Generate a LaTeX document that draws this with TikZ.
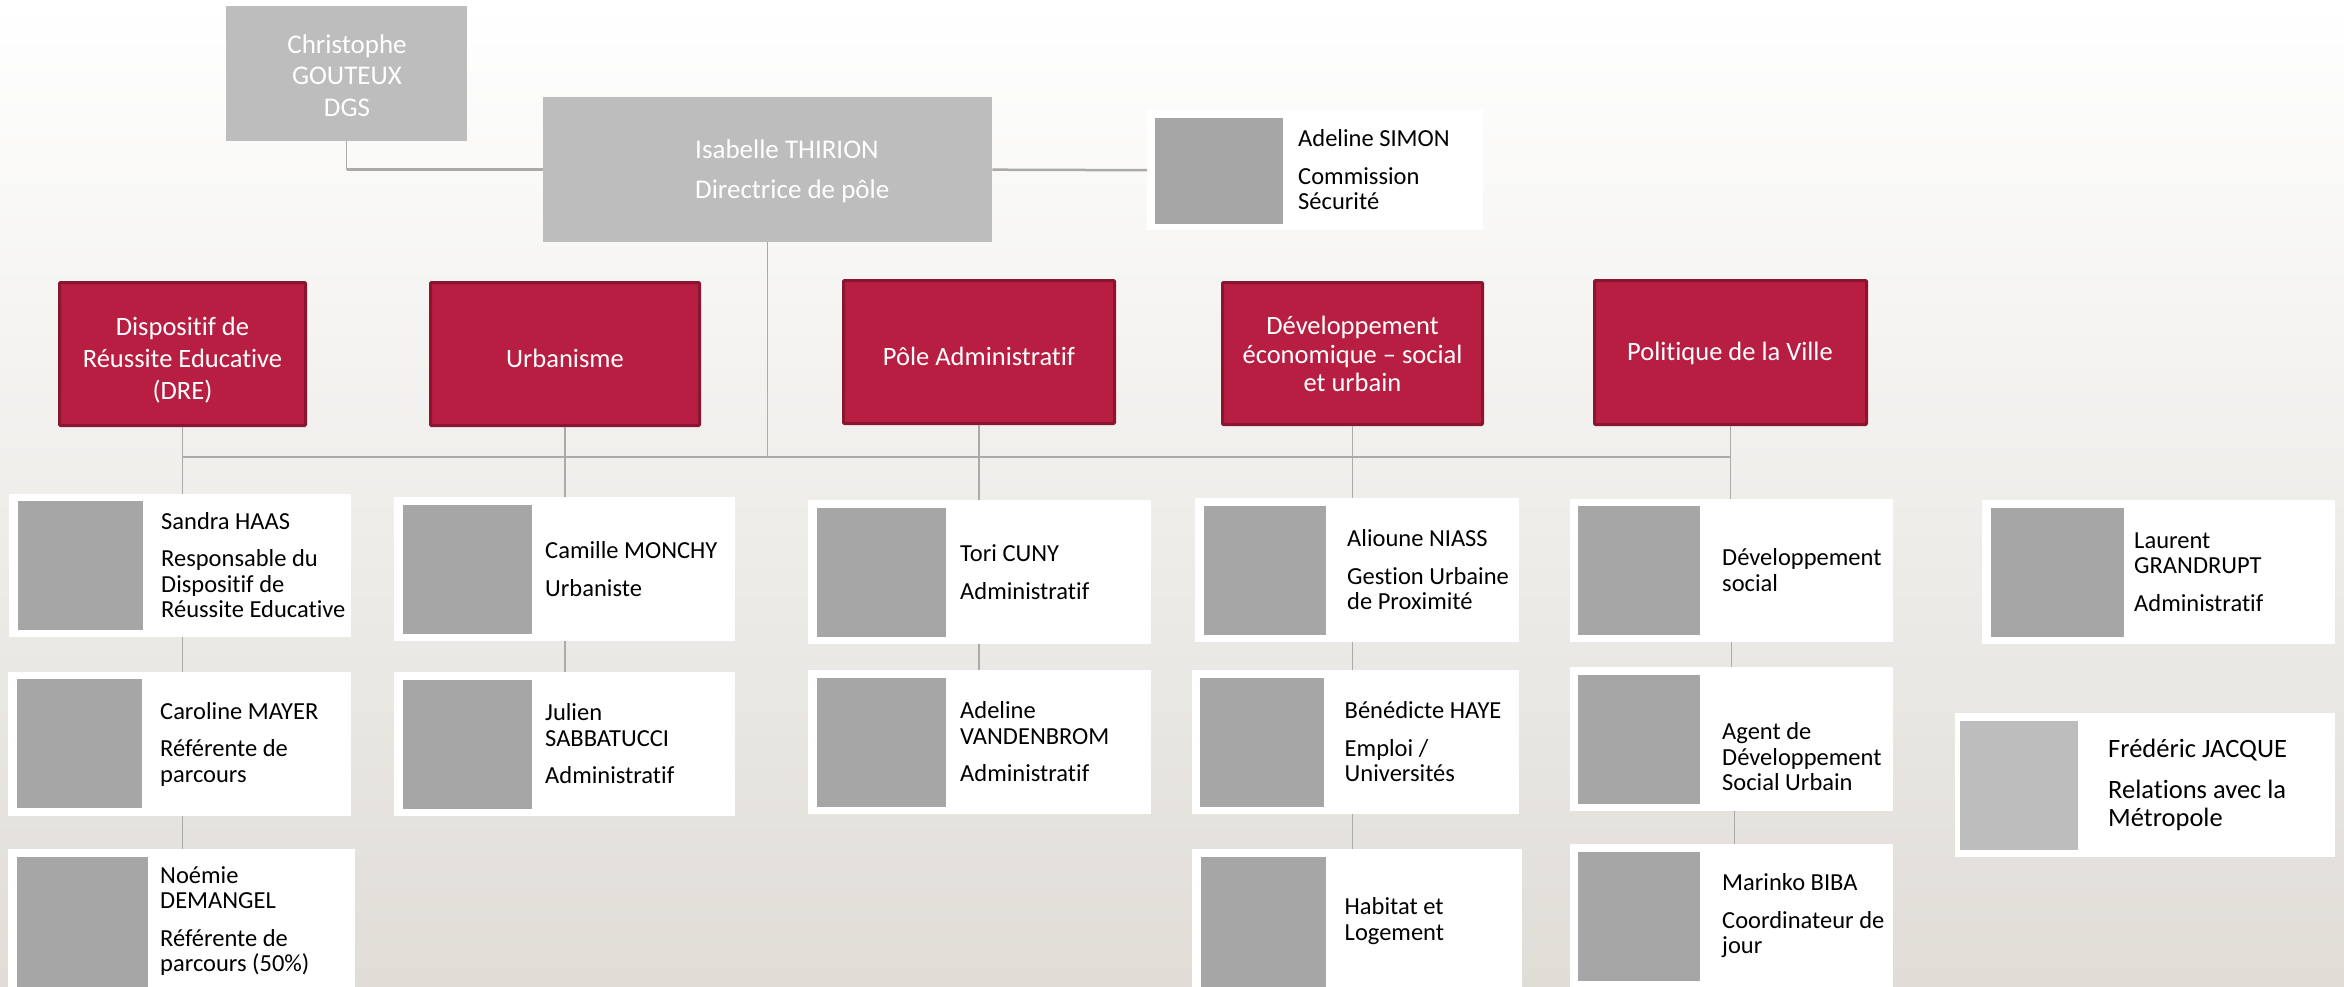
\documentclass[tikz,border=0pt]{standalone}
\usepackage{xcolor}
\usepackage{fontspec}
\setmainfont[Ligatures=NoCommon]{Carlito}
\definecolor{bgbottom}{RGB}{224,221,215}
\definecolor{topgrey}{RGB}{189,189,189}
\definecolor{photogrey}{RGB}{166,166,166}
\definecolor{linegrey}{RGB}{170,170,168}
\definecolor{polered}{RGB}{183,30,66}
\definecolor{poleborder}{RGB}{138,21,48}

\begin{document}
\begin{tikzpicture}[
    x=1pt, y=-1pt,
    topbox/.style={rectangle, fill=topgrey, anchor=north west, inner sep=0pt},
    redbox/.style={rectangle, fill=polered, draw=poleborder, line width=3pt, rounded corners=1pt, anchor=north west, inner sep=0pt},
    redtext/.style={text=white, align=center, inner sep=0pt, font=\fontsize{26.5}{32}\selectfont},
    card/.style={rectangle, fill=white, anchor=north west, inner sep=0pt},
    photo/.style={rectangle, fill=photogrey, anchor=north west, inner sep=0pt},
    cardtext/.style={anchor=west, align=left, inner sep=0pt, font=\fontsize{24.5}{25.5}\selectfont},
    link/.style={draw=linegrey, line width=1.5pt},
    buslink/.style={draw=linegrey, line width=2.5pt}
]
\useasboundingbox (0,0) rectangle (2344,987);
\shade[top color=white, bottom color=bgbottom] (0,0) rectangle (2344,987);

% direction
\node[topbox, minimum width=241, minimum height=135] (gouteux) at (226,6) {};
\node[redtext, font=\fontsize{27}{31.5}\selectfont] (gouteuxtext) at (347,75.5) {Christophe\\GOUTEUX\\DGS};
\node[topbox, minimum width=449, minimum height=145] (thirion) at (543,97) {};
\node[redtext, anchor=west, align=left, font=\fontsize{27}{40.5}\selectfont] (thiriontext) at (695,171.5) {Isabelle THIRION\\Directrice de p\^ole};
\node[card, minimum width=336, minimum height=120] (simon) at (1147,110) {};
\node[photo, minimum width=128, minimum height=106] (simonphoto) at (1155,118) {};
\node[cardtext] (simontext) at (1298,170) {Adeline SIMON\\[12pt]Commission\\S\'ecurit\'e};

% services
\node[redbox, minimum width=246, minimum height=143] (dre) at (58,281) {};
\node[redtext] (dretext) at (182.5,360) {Dispositif de\\R\'eussite Educative\\(DRE)};
\node[redbox, minimum width=269, minimum height=143] (urba) at (429,281) {};
\node[redtext] (urbatext) at (565,358) {Urbanisme};
\node[redbox, minimum width=271, minimum height=143] (admin) at (842,279) {};
\node[redtext] (admintext) at (979,356) {P\^ole Administratif};
\node[redbox, minimum width=260, minimum height=142] (eco) at (1221,281) {};
\node[redtext, font=\fontsize{26.5}{28.5}\selectfont] (ecotext) at (1352.5,354) {D\'eveloppement\\\'economique -- social\\et urbain};
\node[redbox, minimum width=272, minimum height=144] (ville) at (1593,279) {};
\node[redtext] (villetext) at (1730,353) {Politique de la Ville};

% dispositif de reussite educative
\node[card, minimum width=342, minimum height=143] (haas) at (9,494) {};
\node[photo, minimum width=125, minimum height=129] (haasphoto) at (18,501) {};
\node[cardtext] (haastext) at (161,565) {Sandra HAAS\\[12pt]Responsable du\\Dispositif de\\R\'eussite Educative};
\node[card, minimum width=343, minimum height=144] (mayer) at (8,672) {};
\node[photo, minimum width=125, minimum height=129] (mayerphoto) at (17,679) {};
\node[cardtext] (mayertext) at (160,744) {Caroline MAYER\\[12pt]R\'ef\'erente de\\parcours};
\node[card, minimum width=347, minimum height=138] (demangel) at (8,849) {};
\node[photo, minimum width=131, minimum height=130] (demangelphoto) at (17,857) {};
\node[cardtext] (demangeltext) at (160,921) {No\'emie\\DEMANGEL\\[12pt]R\'ef\'erente de\\parcours (50\%)};

% urbanisme
\node[card, minimum width=341, minimum height=144] (monchy) at (394,497) {};
\node[photo, minimum width=129, minimum height=129] (monchyphoto) at (403,505) {};
\node[cardtext] (monchytext) at (545,569) {Camille MONCHY\\[12pt]Urbaniste};
\node[card, minimum width=341, minimum height=144] (sabbatucci) at (394,672) {};
\node[photo, minimum width=129, minimum height=129] (sabbatucciphoto) at (403,680) {};
\node[cardtext] (sabbatuccitext) at (545,744) {Julien\\SABBATUCCI\\[12pt]Administratif};

% pole administratif
\node[card, minimum width=343, minimum height=144] (cuny) at (808,500) {};
\node[photo, minimum width=129, minimum height=129] (cunyphoto) at (817,508) {};
\node[cardtext] (cunytext) at (960,572) {Tori CUNY\\[12pt]Administratif};
\node[card, minimum width=343, minimum height=144] (vandenbrom) at (808,670) {};
\node[photo, minimum width=129, minimum height=129] (vandenbromphoto) at (817,678) {};
\node[cardtext] (vandenbromtext) at (960,742) {Adeline\\VANDENBROM\\[12pt]Administratif};

% developpement economique
\node[card, minimum width=324, minimum height=144] (niass) at (1195,498) {};
\node[photo, minimum width=122, minimum height=129] (niassphoto) at (1204,506) {};
\node[cardtext] (niasstext) at (1347,570) {Alioune NIASS\\[12pt]Gestion Urbaine\\de Proximit\'e};
\node[card, minimum width=327, minimum height=144] (haye) at (1192,670) {};
\node[photo, minimum width=124, minimum height=129] (hayephoto) at (1200,678) {};
\node[cardtext] (hayetext) at (1344.5,742) {B\'en\'edicte HAYE\\[12pt]Emploi /\\Universit\'es};
\node[card, minimum width=330, minimum height=138] (habitat) at (1192,849) {};
\node[photo, minimum width=125, minimum height=130] (habitatphoto) at (1201,857) {};
\node[cardtext] (habitattext) at (1344.5,921) {Habitat et\\Logement};

% politique de la ville
\node[card, minimum width=323, minimum height=143] (social) at (1570,499) {};
\node[photo, minimum width=122, minimum height=129] (socialphoto) at (1578,506) {};
\node[cardtext] (socialtext) at (1722,570) {D\'eveloppement\\social};
\node[card, minimum width=323, minimum height=144] (agent) at (1570,667) {};
\node[photo, minimum width=122, minimum height=129] (agentphoto) at (1578,675) {};
\node[cardtext] (agenttext) at (1722,757) {Agent de\\D\'eveloppement\\Social Urbain};
\node[card, minimum width=323, minimum height=143] (biba) at (1570,844) {};
\node[photo, minimum width=122, minimum height=129] (bibaphoto) at (1578,852) {};
\node[cardtext] (bibatext) at (1722,916) {Marinko BIBA\\[12pt]Coordinateur de\\jour};

% hors rattachement
\node[card, minimum width=353, minimum height=144] (grandrupt) at (1982,500) {};
\node[photo, minimum width=133, minimum height=129] (grandruptphoto) at (1991,508) {};
\node[cardtext] (grandrupttext) at (2134,572) {Laurent\\GRANDRUPT\\[12pt]Administratif};
\node[card, minimum width=380, minimum height=144] (jacque) at (1955,713) {};
\node[photo, fill=topgrey, minimum width=118, minimum height=129] (jacquephoto) at (1960,721) {};
\node[cardtext, font=\fontsize{26.5}{28.5}\selectfont] (jacquetext) at (2108,785) {Fr\'ed\'eric JACQUE\\[12pt]Relations avec la\\M\'etropole};

% connectors
\coordinate (bus) at (0,457);
\draw[link] (gouteux.south) -- (gouteux.south |- thirion.west);
\draw[buslink] (gouteux.south |- thirion.west) -- (thirion.west);
\draw[buslink] (thirion.east) -- (simon.west);
\draw[link] (thirion.south) -- (thirion.south |- bus);
\draw[buslink] (dre.south |- bus) -- (ville.south |- bus);
\draw[link] (dre.south) -- (dre.south |- haas.north);
\draw[link] (urba.south) -- (urba.south |- monchy.north);
\draw[link] (admin.south) -- (admin.south |- cuny.north);
\draw[link] (eco.south) -- (eco.south |- niass.north);
\draw[link] (ville.south) -- (ville.south |- social.north);
\draw[link] (dre.south |- haas.south) -- (dre.south |- mayer.north);
\draw[link] (dre.south |- mayer.south) -- (dre.south |- demangel.north);
\draw[link] (urba.south |- monchy.south) -- (urba.south |- sabbatucci.north);
\draw[link] (admin.south |- cuny.south) -- (admin.south |- vandenbrom.north);
\draw[link] (eco.south |- niass.south) -- (eco.south |- haye.north);
\draw[link] (eco.south |- haye.south) -- (eco.south |- habitat.north);
\draw[link] (social.south) -- (social.south |- agent.north);
\draw[link] ([xshift=3pt]agent.south) -- ([xshift=3pt]agent.south |- biba.north);
\end{tikzpicture}
\end{document}
